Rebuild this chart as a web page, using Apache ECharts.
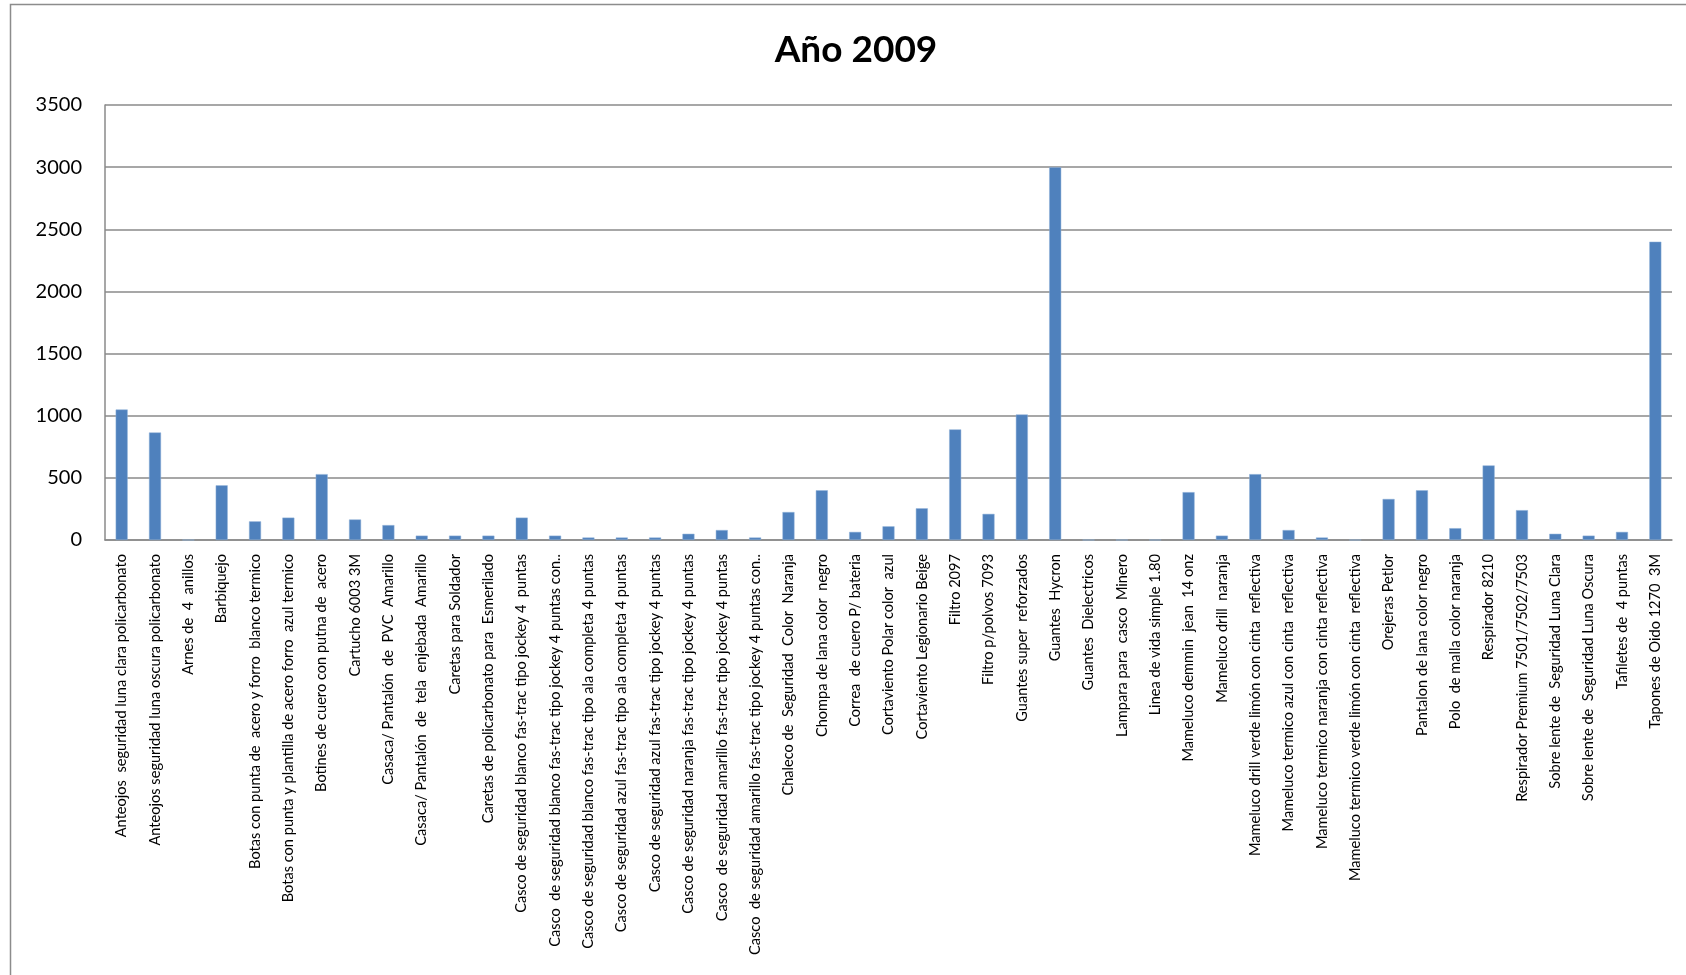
<!DOCTYPE html>
<html>
<head>
<meta charset="utf-8">
<script src="https://cdn.jsdelivr.net/npm/echarts@6/dist/echarts.min.js"></script>
<style>
html,body{margin:0;padding:0;background:#fff;}
#chart{width:1686px;height:975px;}
</style>
</head>
<body>
<div id="chart"></div>
<script>
const titleText = 'Año 2009';
const categories = [
  'Anteojos  seguridad luna clara policarbonato',
  'Anteojos seguridad luna oscura policarbonato',
  'Arnes de  4  anillos',
  'Barbiquejo',
  'Botas con punta de  acero y forro  blanco termico',
  'Botas con punta y plantilla de acero forro  azul termico',
  'Botines de cuero con putna de  acero',
  'Cartucho 6003 3M',
  'Casaca/ Pantalón  de  PVC  Amarillo',
  'Casaca/ Pantalón  de  tela  enjebada  Amarillo',
  'Caretas para Soldador',
  'Caretas de policarbonato para  Esmerilado',
  'Casco de seguridad blanco fas-trac tipo jockey 4  puntas',
  'Casco  de seguridad blanco fas-trac tipo jockey 4 puntas con..',
  'Casco de seguridad blanco fas-trac tipo ala completa 4 puntas',
  'Casco de seguridad azul fas-trac tipo ala completa 4 puntas',
  'Casco de seguridad azul fas-trac tipo jockey 4 puntas',
  'Casco de seguridad naranja fas-trac tipo jockey 4 puntas',
  'Casco  de seguridad amarillo fas-trac tipo jockey 4 puntas',
  'Casco  de seguridad amarillo fas-trac tipo jockey 4 puntas con..',
  'Chaleco de  Seguridad  Color  Naranja',
  'Chompa de lana color  negro',
  'Correa  de cuero P/ bateria',
  'Cortaviento Polar color  azul',
  'Cortaviento Legionario Beige',
  'Filtro 2097',
  'Filtro p/polvos 7093',
  'Guantes super  reforzados',
  'Guantes  Hycron',
  'Guantes  Dielectricos',
  'Lampara para  casco  Minero',
  'Linea de vida simple 1.80',
  'Mameluco demmin  jean  14 onz',
  'Mameluco drill  naranja',
  'Mameluco drill verde limón con cinta  reflectiva',
  'Mameluco termico azul con cinta  reflectiva',
  'Mameluco termico naranja con cinta reflectiva',
  'Mameluco termico verde limón con cinta  reflectiva',
  'Orejeras Petlor',
  'Pantalon de lana color negro',
  'Polo  de malla color naranja',
  'Respirador 8210',
  'Respirador Premium 7501/7502/7503',
  'Sobre lente de  Seguridad Luna Clara',
  'Sobre lente de  Seguridad Luna Oscura',
  'Tafiletes de  4 puntas',
  'Tapones de Oido 1270  3M'
];
const values = [
  1050, 865, 0, 440, 150, 180, 530, 165, 120, 35,
  35, 35, 180, 35, 20, 20, 20, 50, 80, 20,
  225, 400, 65, 110, 255, 890, 210, 1010, 3000, 0,
  0, 0, 385, 35, 530, 80, 20, 0, 330, 400,
  95, 600, 240, 50, 35, 65, 2400
];
const yMin = 0, yMax = 3500, yStep = 500;

const chart = echarts.init(document.getElementById('chart'), null, {renderer: 'canvas'});
const FONT = 'Lato, "Open Sans", sans-serif';
chart.setOption({
  backgroundColor: '#ffffff',
  animation: false,
  graphic: [{
    type: 'rect',
    shape: {x: 10.5, y: 4.5, width: 1800, height: 1200},
    style: {fill: 'none', stroke: '#8c8c8c', lineWidth: 1.5},
    silent: true, z: -1
  }],
  title: {
    text: titleText,
    left: 851, top: 27,
    textAlign: 'center',
    textStyle: {fontFamily: FONT, fontWeight: 'bold', fontSize: 37, color: '#000'}
  },
  grid: {left: 105, right: 14, top: 105, bottom: 435, containLabel: false},
  xAxis: {
    type: 'category',
    data: categories,
    axisLine: {show: true, lineStyle: {color: '#8a8a8a', width: 1.5}},
    axisTick: {show: false},
    axisLabel: {
      interval: 0, rotate: 90, margin: 14,
      fontFamily: FONT, fontSize: 14.6, color: '#000'
    },
    splitLine: {show: false}
  },
  yAxis: {
    type: 'value',
    min: yMin, max: yMax, interval: yStep,
    axisLine: {show: true, lineStyle: {color: '#8a8a8a', width: 1.5}},
    axisTick: {show: false},
    axisLabel: {fontFamily: FONT, fontSize: 20, color: '#000', margin: 23,
      formatter: function (v) { return String(v); }},
    splitLine: {show: true, lineStyle: {color: '#8a8a8a', width: 1.5}}
  },
  series: [{
    type: 'bar',
    data: values,
    barWidth: 12,
    itemStyle: {color: '#4F81BD', borderColor: '#8fb0d8', borderWidth: 0.5}
  }]
});
</script>
</body>
</html>
